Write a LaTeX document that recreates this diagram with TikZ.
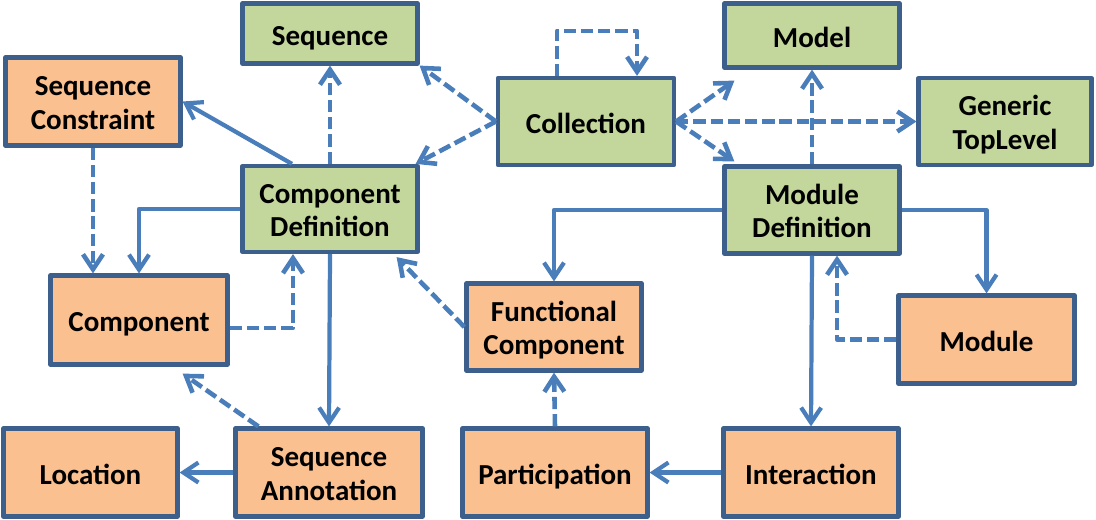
\documentclass[tikz,border=0pt]{standalone}
\usepackage{fontspec}
\setmainfont{Carlito}
\usepackage{xcolor}
\usepackage{tikz}
\usetikzlibrary{arrows.meta,calc}
\definecolor{boxgreen}{HTML}{C3D69B}
\definecolor{boxorange}{HTML}{FAC090}
\definecolor{boxline}{HTML}{3C5F8C}
\definecolor{linkblue}{HTML}{4A7EBB}
\begin{document}
\begin{tikzpicture}[line join=round,>={Straight Barb[length=3mm,width=4mm]},x=1.0cm,y=1.0cm,
	cls/.style={draw=boxline,line width=2.4pt,inner sep=0pt,align=center,
		font=\bfseries\fontsize{16.5}{19.3}\selectfont,text height=17.6pt,text depth=4pt},
	tall/.style={text height=35.8pt},
	top/.style={cls,fill=boxgreen},
	sub/.style={cls,fill=boxorange},
	link/.style={->,draw=linkblue,line width=2.4pt},
	ref/.style={link,line width=2.6pt,dash pattern=on 7pt off 2.8pt}]
			\clip(0,0) rectangle (21.92,10.38);
			\node[top,minimum width=3.5cm,minimum height=1.2cm] (seq) at (6.6,9.71) {Sequence};
			\node[top,minimum width=3.5cm,minimum height=1.28cm] (mdl) at (16.24,9.67) {Model};
			\node[sub,tall,minimum width=3.5cm,minimum height=1.76cm] (sqc) at (1.86,8.35) {Sequence\\Constraint};
			\node[top,minimum width=3.52cm,minimum height=1.74cm] (col) at (11.72,7.95) {Collection};
			\node[top,tall,minimum width=3.46cm,minimum height=1.74cm] (gtl) at (20.1,7.95) {Generic\\TopLevel};
			\node[top,tall,minimum width=3.5cm,minimum height=1.72cm] (cdef) at (6.6,6.2) {Component\\Definition};
			\node[top,tall,minimum width=3.5cm,minimum height=1.74cm] (mdef) at (16.24,6.18) {Module\\Definition};
			\node[sub,minimum width=3.54cm,minimum height=1.78cm] (cmp) at (2.78,3.98) {Component};
			\node[sub,tall,minimum width=3.5cm,minimum height=1.74cm] (fcmp) at (11.08,3.84) {Functional\\Component};
			\node[sub,minimum width=3.52cm,minimum height=1.76cm] (mod) at (19.73,3.59) {Module};
			\node[sub,minimum width=3.48cm,minimum height=1.76cm] (loc) at (1.81,0.93) {Location};
			\node[sub,tall,minimum width=3.74cm,minimum height=1.76cm] (sqa) at (6.58,0.93) {Sequence\\Annotation};
			\node[sub,minimum width=3.7cm,minimum height=1.76cm] (par) at (11.1,0.93) {Participation};
			\node[sub,minimum width=3.5cm,minimum height=1.76cm] (int) at (16.22,0.93) {Interaction};
			\draw[link] ($(cdef.north)+(-0.76,0)$) -- (sqc.east);
			\draw[ref] (cdef.north) -- (seq.south);
			\draw[ref] (col.west) -- (seq.south east);
			\draw[ref] (col.west) -- ($(cdef.north east)+(-0.08,0)$);
			\draw[ref] ($(col.north)+(-0.58,0)$) -- ++(0,0.9) -| ($(col.north)+(1.02,0)$);
			\draw[ref] (col.east) -- ($(mdl.south west)+(0.24,-0.22)$);
			\draw[ref] (col.east) -- (gtl.west);
			\draw[ref] (col.east) -- ($(mdef.north west)+(0.24,0.06)$);
			\draw[ref] (mdef.north) -- (mdl.south);
			\draw[link] (cdef.west) -| (cmp.north);
			\draw[ref] (sqc.south) -- (sqc.south |- cmp.north);
			\draw[ref] ($(cmp.east)+(0,-0.16)$) -| ($(cdef.south)+(-0.74,0)$);
			\draw[link] (cdef.south) -- (sqa.north);
			\draw[ref] (fcmp.west) -- ($(cdef.south east)+(-0.46,-0.06)$);
			\draw[ref] ($(sqa.north west)+(0.5,0)$) -- ($(cmp.south east)+(-0.94,-0.14)$);
			\draw[link] (sqa.west) -- (loc.east);
			\draw[link] (mdef.west) -| (fcmp.north);
			\draw[link] (mdef.east) -| (mod.north);
			\draw[ref] (mod.west) -| ($(mdef.south)+(0.5,0)$);
			\draw[link] (mdef.south) -- (int.north);
			\draw[link] (int.west) -- (par.east);
			\draw[ref] (par.north) -- (fcmp.south);
		\end{tikzpicture}
\end{document}
